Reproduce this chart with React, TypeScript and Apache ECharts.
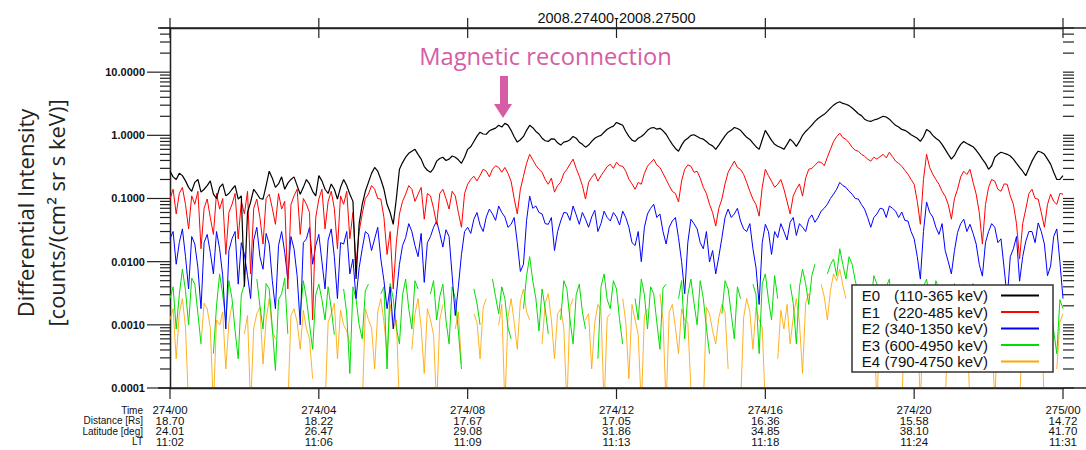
import React, { useEffect, useRef } from "react";
import * as echarts from "echarts";

// ---------- data ----------
// *_ON : samples on the 10-minute marks (274/00:00, 00:10, ... 275/00:00), 145 values
// *_MID: samples 5 minutes after each mark, 144 values
const STEP_HOURS = 1 / 6;

const SERIES_NAMES = ["E0", "E1", "E2", "E3", "E4"];
const SERIES_RANGES = ["(110-365 keV)", "(220-485 keV)", "(340-1350 keV)", "(600-4950 keV)", "(790-4750 keV)"];
const SERIES_COLORS = ["#000000", "#ff0000", "#0000ff", "#00dd00", "#ffa500"];

const TIME_LABELS = ["274/00", "274/04", "274/08", "274/12", "274/16", "274/20", "275/00"];
const DIST_LABELS = ["18.70", "18.22", "17.67", "17.05", "16.36", "15.58", "14.72"];
const LAT_LABELS = ["24.01", "26.47", "29.08", "31.86", "34.85", "38.10", "41.70"];
const LT_LABELS = ["11:02", "11:06", "11:09", "11:13", "11:18", "11:24", "11:31"];
const ROW_HEADERS = ["Time", "Distance [Rs]", "Latitude [deg]", "LT"];

const Y_MIN = 0.0001;
const Y_MAX = 50;
const Y_MAJOR = [0.0001, 0.001, 0.01, 0.1, 1, 10];
const Y_MINOR_MULT = [2, 3, 4, 5, 6, 7, 8, 9];
const X_TICKS = [0, 4, 8, 12, 16, 20, 24];

const E0_ON = [
  0.27, 0.2, 0.23, 0.15, 0.18, 0.126, 0.16, 0.117, 0.15, 0.11,
  0.14, 0.098, 0.004, 0.088, 0.12, 0.098, 0.27, 0.15, 0.22, 0.175,
  0.22, 0.117, 0.2, 0.13, 0.23, 0.14, 0.17, 0.098, 0.2, 0.117,
  0.0053, 0.081, 0.18, 0.31, 0.2, 0.081, 0.039, 0.29, 0.45, 0.56,
  0.5, 0.32, 0.26, 0.39, 0.45, 0.42, 0.45, 0.36, 0.6, 0.8,
  1.12, 1.04, 1.24, 1.44, 1.55, 1.2, 0.78, 0.96, 1.44, 1.15,
  0.9, 0.8, 0.87, 0.7, 0.8, 0.96, 0.78, 0.65, 0.8, 0.96,
  1.12, 1.33, 1.6, 1.44, 0.96, 0.8, 0.96, 1.2, 1.33, 1.29,
  1.04, 0.72, 0.56, 0.83, 1.0, 0.96, 0.87, 0.72, 0.6, 0.83,
  1.12, 1.33, 1.2, 0.93, 0.75, 0.6, 1.2, 0.83, 0.67, 0.6,
  0.87, 0.67, 1.0, 1.29, 1.66, 2.0, 2.4, 3.0, 3.4, 3.1,
  2.7, 2.2, 1.8, 1.66, 1.8, 2.0, 1.8, 1.44, 1.24, 1.12,
  0.96, 0.8, 1.24, 1.0, 0.83, 0.6, 0.42, 0.6, 0.8, 0.7,
  0.58, 0.42, 0.29, 0.45, 0.54, 0.5, 0.42, 0.31, 0.23, 0.39,
  0.56, 0.5, 0.35, 0.2, 0.23,
];
const E0_MID = [
  0.22, 0.25, 0.19, 0.13, 0.2, 0.14, 0.19, 0.1, 0.17, 0.12,
  0.16, 0.11, 0.06, 0.14, 0.1, 0.16, 0.21, 0.17, 0.14, 0.2,
  0.16, 0.15, 0.17, 0.11, 0.19, 0.12, 0.14, 0.15, 0.16, 0.09,
  0.04, 0.13, 0.25, 0.27, 0.14, 0.06, 0.1, 0.37, 0.52, 0.6,
  0.42, 0.28, 0.3, 0.43, 0.4, 0.47, 0.41, 0.45, 0.66, 0.97,
  1.05, 1.18, 1.3, 1.35, 1.45, 0.95, 0.85, 1.2, 1.32, 1.05,
  0.82, 0.88, 0.76, 0.78, 0.85, 0.9, 0.72, 0.7, 0.9, 1.0,
  1.25, 1.4, 1.52, 1.15, 0.84, 0.9, 1.05, 1.3, 1.25, 1.18,
  0.86, 0.62, 0.7, 0.9, 1.02, 0.9, 0.8, 0.68, 0.7, 0.98,
  1.2, 1.28, 1.05, 0.86, 0.66, 0.85, 1.0, 0.72, 0.64, 0.72,
  0.78, 0.8, 1.15, 1.45, 1.85, 2.15, 2.7, 3.25, 3.2, 2.95,
  2.45, 2.05, 1.7, 1.75, 1.9, 1.95, 1.6, 1.35, 1.2, 1.02,
  0.9, 0.95, 1.15, 0.9, 0.72, 0.5, 0.48, 0.72, 0.74, 0.66,
  0.5, 0.36, 0.33, 0.5, 0.52, 0.47, 0.36, 0.27, 0.3, 0.48,
  0.54, 0.42, 0.26, 0.2,
];

const E1_ON = [
  0.098, 0.057, 0.15, 0.033, 0.081, 0.016, 0.098, 0.027, 0.068, 0.013,
  0.081, 0.023, 0.057, 0.0064, 0.098, 0.019, 0.117, 0.039, 0.068, 0.0037,
  0.11, 0.027, 0.081, 0.0012, 0.098, 0.033, 0.13, 0.016, 0.081, 0.023,
  0.0091, 0.057, 0.117, 0.14, 0.098, 0.013, 0.0037, 0.057, 0.117, 0.14,
  0.117, 0.047, 0.11, 0.039, 0.14, 0.068, 0.11, 0.035, 0.168, 0.225,
  0.233, 0.27, 0.29, 0.31, 0.31, 0.188, 0.057, 0.225, 0.5, 0.335,
  0.26, 0.168, 0.126, 0.181, 0.29, 0.42, 0.225, 0.098, 0.217, 0.188,
  0.27, 0.348, 0.374, 0.324, 0.202, 0.14, 0.168, 0.324, 0.418, 0.31,
  0.2, 0.13, 0.088, 0.29, 0.324, 0.27, 0.15, 0.081, 0.0365, 0.098,
  0.26, 0.39, 0.29, 0.18, 0.098, 0.0525, 0.29, 0.188, 0.168, 0.14,
  0.057, 0.14, 0.109, 0.29, 0.335, 0.374, 0.45, 0.8, 1.08, 0.865,
  0.646, 0.56, 0.466, 0.39, 0.42, 0.5, 0.54, 0.39, 0.324, 0.242,
  0.168, 0.039, 0.5, 0.242, 0.168, 0.109, 0.047, 0.14, 0.27, 0.29,
  0.117, 0.019, 0.15, 0.188, 0.13, 0.168, 0.081, 0.011, 0.068, 0.14,
  0.098, 0.035, 0.117, 0.081, 0.117,
];
const E1_MID = [
  0.14, 0.12, 0.08, 0.11, 0.13, 0.07, 0.05, 0.12, 0.1, 0.06,
  0.12, 0.09, 0.13, 0.07, 0.05, 0.1, 0.07, 0.12, 0.09, 0.08,
  0.14, 0.1, 0.06, 0.05, 0.14, 0.09, 0.07, 0.11, 0.13, 0.06,
  0.03, 0.1, 0.16, 0.1, 0.05, 0.03, 0.02, 0.09, 0.16, 0.09,
  0.15, 0.12, 0.07, 0.12, 0.1, 0.13, 0.06, 0.12, 0.2, 0.19,
  0.29, 0.22, 0.33, 0.26, 0.25, 0.1, 0.14, 0.36, 0.41, 0.29,
  0.2, 0.21, 0.16, 0.25, 0.35, 0.3, 0.16, 0.18, 0.25, 0.23,
  0.32, 0.3, 0.33, 0.27, 0.17, 0.18, 0.25, 0.37, 0.34, 0.25,
  0.16, 0.12, 0.19, 0.34, 0.26, 0.21, 0.12, 0.06, 0.07, 0.17,
  0.32, 0.31, 0.24, 0.13, 0.08, 0.15, 0.23, 0.15, 0.2, 0.09,
  0.11, 0.17, 0.21, 0.3, 0.38, 0.33, 0.6, 0.95, 0.92, 0.76,
  0.58, 0.5, 0.42, 0.45, 0.46, 0.44, 0.46, 0.36, 0.28, 0.2,
  0.09, 0.2, 0.31, 0.2, 0.13, 0.08, 0.1, 0.22, 0.24, 0.18,
  0.06, 0.08, 0.2, 0.14, 0.17, 0.11, 0.04, 0.04, 0.12, 0.1,
  0.06, 0.08, 0.09, 0.12,
];

const E2_ON = [
  0.023, 0.0091, 0.033, 0.0037, 0.019, 0.0018, 0.027, 0.0064, 0.016, 0.00086,
  0.023, 0.0044, 0.013, 0.0026, 0.035, 0.0076, 0.019, 0.0018, 0.03, 0.0053,
  0.016, 0.001, 0.023, 0.0091, 0.027, 0.0037, 0.033, 0.0026, 0.019, 0.0064,
  0.0026, 0.016, 0.027, 0.023, 0.011, 0.0018, 0.00086, 0.0091, 0.024, 0.03,
  0.012, 0.0047, 0.025, 0.044, 0.017, 0.025, 0.0014, 0.013, 0.035, 0.047,
  0.038, 0.051, 0.057, 0.076, 0.051, 0.039, 0.02, 0.0091, 0.109, 0.076,
  0.057, 0.039, 0.015, 0.044, 0.059, 0.076, 0.039, 0.047, 0.051, 0.03,
  0.063, 0.044, 0.051, 0.063, 0.035, 0.018, 0.01, 0.057, 0.081, 0.057,
  0.019, 0.044, 0.024, 0.0031, 0.047, 0.033, 0.016, 0.0099, 0.0064, 0.024,
  0.068, 0.057, 0.044, 0.03, 0.016, 0.0021, 0.039, 0.013, 0.024, 0.03,
  0.042, 0.026, 0.035, 0.047, 0.042, 0.063, 0.081, 0.117, 0.18, 0.15,
  0.117, 0.098, 0.068, 0.035, 0.057, 0.068, 0.076, 0.063, 0.061, 0.044,
  0.023, 0.0053, 0.088, 0.051, 0.027, 0.015, 0.0064, 0.029, 0.047, 0.039,
  0.019, 0.0059, 0.03, 0.035, 0.023, 0.0026, 0.016, 0.0049, 0.021, 0.03,
  0.041, 0.019, 0.0085, 0.033, 0.0026,
];
const E2_MID = [
  0.03, 0.02, 0.012, 0.025, 0.008, 0.02, 0.014, 0.03, 0.006, 0.015,
  0.03, 0.02, 0.006, 0.022, 0.012, 0.028, 0.005, 0.018, 0.014, 0.025,
  0.006, 0.02, 0.035, 0.018, 0.01, 0.022, 0.012, 0.02, 0.03, 0.011,
  0.008, 0.03, 0.015, 0.035, 0.005, 0.004, 0.003, 0.018, 0.04, 0.018,
  0.028, 0.02, 0.035, 0.028, 0.032, 0.006, 0.004, 0.03, 0.028, 0.06,
  0.03, 0.068, 0.045, 0.06, 0.035, 0.05, 0.007, 0.045, 0.07, 0.06,
  0.04, 0.05, 0.03, 0.06, 0.045, 0.055, 0.06, 0.035, 0.065, 0.04,
  0.05, 0.06, 0.038, 0.05, 0.02, 0.03, 0.035, 0.07, 0.05, 0.03,
  0.035, 0.05, 0.01, 0.02, 0.04, 0.02, 0.03, 0.015, 0.012, 0.05,
  0.05, 0.07, 0.033, 0.04, 0.008, 0.02, 0.03, 0.03, 0.04, 0.022,
  0.05, 0.04, 0.03, 0.055, 0.05, 0.07, 0.1, 0.14, 0.16, 0.13,
  0.1, 0.08, 0.05, 0.05, 0.07, 0.05, 0.07, 0.05, 0.045, 0.03,
  0.012, 0.03, 0.06, 0.035, 0.04, 0.01, 0.015, 0.04, 0.03, 0.028,
  0.009, 0.02, 0.04, 0.02, 0.008, 0.012, 0.025, 0.012, 0.03, 0.02,
  0.03, 0.006, 0.025, 0.01,
];

const E3_ON = [
  0.0026, 0.00086, 0.0076, 0.001, 0.0044, 0.0005, null, 0.00035, 0.0064, 0.0012,
  0.0026, 0.00029, 0.0044, null, 0.0053, 0.00086, 0.0037, 0.00019, 0.0031, 0.00072,
  null, 0.0015, 0.0026, 0.00041, 0.0044, 0.0012, 0.0018, null, 0.0037, 0.00017,
  0.0026, 0.0006, 0.0044, null, 0.0031, 0.0002, 0.0026, 0.0005, 0.0053, 0.00086,
  0.0037, null, 0.0031, 0.0012, 0.0044, 0.0005, 0.0026, 0.0002, null, 0.0037,
  0.001, null, 0.0053, 0.0015, 0.0026, 0.0006, null, 0.0018, 0.012, 0.0026,
  0.0037, 0.00072, null, 0.0012, 0.0037, 0.0005, 0.0044, 0.00086, null, 0.00029,
  0.0064, 0.0018, 0.0037, 0.0005, null, 0.0026, 0.0053, 0.00086, 0.0031, 0.00041,
  0.0044, null, 0.0026, 0.0006, 0.0053, 0.001, 0.0026, 0.00035, null, 0.0015,
  0.0037, 0.0006, 0.0026, null, 0.0044, 0.00035, 0.0064, 0.0012, 0.0026, null,
  0.0044, 0.0005, 0.0076, 0.0021, 0.0091, null, 0.0064, 0.011, 0.016, 0.0053,
  0.0091, 0.0031, null, 0.0021, 0.0044, 0.0012, 0.0053, 0.0026, null, 0.00086,
  0.0044, 0.0006, 0.0053, 0.0018, 0.0037, null, 0.0026, 0.0006, 0.0044, 0.0012,
  0.0031, null, 0.0037, 0.001, 0.0026, 0.0005, 0.0037, 0.0006, null, 0.00086,
  0.0031, 0.00041, 0.0021, 0.00035, 0.0018,
];
const E3_MID = [
  0.004, 0.003, 0.0035, 0.0055, 0.0015, null, null, 0.002, 0.003, 0.005,
  0.0008, 0.003, null, null, 0.002, 0.0045, 0.0009, 0.0025, 0.0055, null,
  null, 0.005, 0.001, 0.003, 0.0025, 0.004, 0.0007, null, 0.0015, 0.004,
  0.001, 0.0035, null, null, 0.004, 0.0045, 0.0009, 0.003, 0.0018, 0.005,
  null, null, 0.005, 0.0028, 0.0012, 0.004, 0.0008, null, null, 0.0022,
  null, null, 0.0028, 0.004, 0.0009, null, null, 0.006, 0.005, 0.0008,
  0.0018, null, null, 0.005, 0.0012, 0.003, 0.0016, null, null, 0.004,
  0.0025, 0.005, 0.0012, null, null, 0.0012, 0.003, 0.004, 0.0011, 0.0038,
  null, null, 0.005, 0.003, 0.0022, 0.005, 0.0009, null, null, 0.005,
  0.0015, 0.004, null, null, 0.003, 0.0045, 0.0025, 0.006, null, null,
  0.0022, 0.004, 0.0045, 0.006, null, null, 0.009, 0.006, 0.009, 0.012,
  0.005, null, null, 0.006, 0.0025, 0.004, 0.0012, null, null, 0.0035,
  0.0018, 0.004, 0.0025, 0.005, null, null, 0.0045, 0.0022, 0.002, 0.0045,
  null, null, 0.0022, 0.004, 0.001, 0.003, 0.0015, null, null, 0.004,
  0.001, 0.003, 0.0008, 0.0025,
];

const E4_ON = [
  0.0012, 0.00029, 0.0026, 0.00005, null, 0.0005, 0.0018, 0.00005, 0.001, 0.0002,
  0.0021, null, 0.00072, 0.00005, 0.0015, 0.00024, 0.0026, 0.0006, null, 0.00005,
  0.0018, 0.00041, 0.00086, 0.00014, null, 0.00005, 0.0015, 0.00029, 0.001, 0.0005,
  null, 0.00005, 0.0012, 0.0002, 0.0026, 0.00035, 0.00086, 0.00005, null, 0.00041,
  0.0026, 0.00017, 0.0012, 0.00005, 0.0021, null, 0.00086, 0.00024, null, 0.0015,
  0.00029, 0.0026, null, 0.001, 0.00005, 0.0026, 0.00041, 0.0037, 0.0012, null,
  0.0005, 0.0031, 0.00029, 0.0018, 0.00005, 0.0026, null, 0.0012, 0.0002, 0.0021,
  0.00005, 0.0015, null, 0.0026, 0.00014, 0.0012, 0.00005, 0.0018, null, 0.0031,
  0.00005, 0.0021, 0.00035, 0.0012, 0.000095, null, 0.00005, 0.0015, 0.0005, 0.0021,
  0.0002, null, 0.00005, 0.0026, 0.00041, 0.0012, 0.00005, null, 0.00029, 0.00086,
  0.0005, 0.0026, 0.00017, 0.0031, null, 0.0044, 0.0012, 0.0064, 0.0076, 0.0026,
  null, 0.0037, 0.00035, 0.0018, 0.00005, 0.0026, 0.0005, null, 0.00005, 0.0021,
  0.00041, 0.00005, 0.0026, 0.0006, null, 0.00005, 0.001, 0.00029, 0.0021, 0.00005,
  null, 0.00041, 0.0026, 0.00005, 0.00086, 0.00029, null, 0.00005, 0.0012, 0.0005,
  0.0021, 0.00005, null, 0.0002, 0.0015,
];
const E4_MID = [
  0.0018, 0.0015, 0.0009, null, null, 0.0022, 0.0009, 0.0012, 0.0016, 0.0011,
  null, null, 0.0014, 0.0009, 0.0019, 0.0012, 0.0008, null, null, 0.0014,
  0.0011, 0.0017, 0.0006, null, null, 0.0011, 0.0022, 0.0017, 0.0008, null,
  null, 0.0018, 0.0009, 0.0016, 0.0011, 0.0021, 0.0012, null, null, 0.0015,
  0.0009, 0.0018, 0.0007, 0.0012, null, null, 0.0016, null, null, 0.0011,
  0.0019, null, null, 0.0021, 0.0013, 0.0011, 0.0024, 0.0016, null, null,
  0.0022, 0.0012, 0.0015, 0.0009, 0.0019, null, null, 0.0015, 0.0011, 0.0017,
  0.0013, null, null, 0.0011, 0.0021, 0.0007, 0.0014, null, null, 0.0012,
  0.0016, 0.0009, 0.0018, 0.0011, null, null, 0.0019, 0.0008, 0.0013, 0.0016,
  null, null, 0.0013, 0.0016, 0.0019, 0.0009, null, null, 0.0017, 0.0021,
  0.0013, 0.0011, 0.0022, null, null, 0.0028, 0.0035, 0.005, 0.0042, null,
  null, 0.0014, 0.0022, 0.0011, 0.0016, 0.0019, null, null, 0.0013, 0.0009,
  0.0016, 0.0018, 0.0012, null, null, 0.0017, 0.0014, 0.0016, 0.0011, null,
  null, 0.0015, 0.0012, 0.0016, 0.0018, null, null, 0.0014, 0.0009, 0.0017,
  0.0012, null, null, 0.0011,
];

const SERIES_ON = [E0_ON, E1_ON, E2_ON, E3_ON, E4_ON];
const SERIES_MID = [E0_MID, E1_MID, E2_MID, E3_MID, E4_MID];

// ---------- chart ----------
const FONT = "'Liberation Sans', Arial, sans-serif";
const FONT2 = "'Open Sans', 'Noto Sans', sans-serif";
const AXIS_COLOR = "#222";

function combine(on: (number | null)[], mid: (number | null)[]) {
  const out: any[] = [];
  on.forEach((v, i) => {
    out.push([i * STEP_HOURS, v === null ? "-" : v]);
    if (i < mid.length) {
      const m = mid[i];
      out.push([(i + 0.5) * STEP_HOURS, m === null ? "-" : m]);
    }
  });
  return out;
}

function buildOption() {
  const tickData: any[] = [];
  Y_MAJOR.forEach((v) => tickData.push([0, v, 0]));
  Y_MAJOR.forEach((d) =>
    Y_MINOR_MULT.forEach((m) => {
      const v = d * m;
      if (v <= Y_MAX * 1.0001) tickData.push([0, v, 1]);
    })
  );
  X_TICKS.forEach((h) => tickData.push([h, 1, 2]));

  const tickStyle = { stroke: AXIS_COLOR, lineWidth: 1.2 };
  const renderTicks = (params: any, api: any) => {
    const kind = api.value(2);
    const cs = params.coordSys;
    const left = cs.x;
    const right = cs.x + cs.width;
    const top = cs.y;
    const bottom = cs.y + cs.height;
    if (kind === 2) {
      const px = api.coord([api.value(0), 1])[0];
      return {
        type: "group",
        children: [
          { type: "line", shape: { x1: px, y1: top - 10, x2: px, y2: top + 10 }, style: tickStyle },
          { type: "line", shape: { x1: px, y1: bottom, x2: px, y2: bottom + 11 }, style: tickStyle },
        ],
      };
    }
    const py = api.coord([0, api.value(1)])[1];
    const len = kind === 0 ? 23 : 10;
    return {
      type: "group",
      children: [
        { type: "line", shape: { x1: left - len, y1: py, x2: left, y2: py }, style: tickStyle },
        { type: "line", shape: { x1: right, y1: py, x2: right + 11, y2: py }, style: tickStyle },
      ],
    };
  };

  const lineSeries = SERIES_NAMES.map((name, k) => ({
    type: "line",
    name,
    data: combine(SERIES_ON[k], SERIES_MID[k]),
    showSymbol: false,
    symbol: "none",
    clip: true,
    silent: true,
    connectNulls: false,
    color: SERIES_COLORS[k],
    itemStyle: { color: SERIES_COLORS[k] },
    lineStyle: { color: SERIES_COLORS[k], width: k === 0 ? 1.2 : 1, opacity: k === 4 ? 0.85 : 1 },
    emphasis: { disabled: true },
    z: 2,
  }));
  const orderedSeries = lineSeries.slice().reverse(); // E0 drawn last, on top

  const rangeOf: Record<string, string> = {};
  SERIES_NAMES.forEach((n, k) => (rangeOf[n] = SERIES_RANGES[k]));

  return {
    animation: false,
    backgroundColor: "#ffffff",
    grid: { left: 170, right: 23, top: 28, bottom: 62, containLabel: false },
    legend: {
      data: SERIES_NAMES,
      orient: "vertical",
      left: 852,
      top: 285,
      align: "right",
      icon: "rect",
      itemWidth: 38,
      itemHeight: 2,
      itemGap: 1.5,
      padding: [3, 14, 3, 6],
      backgroundColor: "#ffffff",
      borderColor: "#333",
      borderWidth: 1.5,
      borderRadius: 0,
      selectedMode: false,
      formatter: (name: string) => `{a|${name}}{b|${rangeOf[name]}}`,
      textStyle: {
        fontFamily: FONT,
        fontSize: 15,
        color: "#111",
        rich: {
          a: { width: 22, fontFamily: FONT, fontSize: 15, lineHeight: 14.5, color: "#111" },
          b: { width: 108, align: "right", padding: [0, 8, 0, 0], fontFamily: FONT, fontSize: 15, lineHeight: 14.5, color: "#111" },
        },
      },
      z: 10,
    },
    xAxis: [
      {
        type: "value",
        min: 0,
        max: 24,
        interval: 4,
        position: "bottom",
        axisLine: { show: true, lineStyle: { color: AXIS_COLOR, width: 1.3 } },
        axisTick: { show: false },
        splitLine: { show: false },
        axisLabel: {
          margin: 17,
          fontFamily: FONT,
          fontSize: 11.5,
          lineHeight: 10.5,
          color: "#111",
          formatter: (v: number) => {
            const k = Math.round(v / 4);
            return [TIME_LABELS[k], DIST_LABELS[k], LAT_LABELS[k], LT_LABELS[k]].join("\n");
          },
        },
      },
      {
        type: "value",
        min: 0,
        max: 24,
        interval: 4,
        position: "top",
        axisLine: { show: true, lineStyle: { color: AXIS_COLOR, width: 1.3 } },
        axisTick: { show: false },
        axisLabel: { show: false },
        splitLine: { show: false },
      },
    ],
    yAxis: [
      {
        type: "log",
        logBase: 10,
        min: Y_MIN,
        max: Y_MAX,
        position: "left",
        axisLine: { show: true, lineStyle: { color: AXIS_COLOR, width: 1.3 } },
        axisTick: { show: false },
        splitLine: { show: false },
        minorTick: { show: false },
        axisLabel: {
          margin: 25,
          fontFamily: FONT,
          fontSize: 11,
          fontWeight: "bold",
          color: "#111",
          showMaxLabel: false,
          formatter: (v: number) => Number(v).toFixed(4),
        },
      },
      {
        type: "log",
        logBase: 10,
        min: Y_MIN,
        max: Y_MAX,
        position: "right",
        axisLine: { show: true, lineStyle: { color: AXIS_COLOR, width: 1.3 } },
        axisTick: { show: false },
        axisLabel: { show: false },
        splitLine: { show: false },
      },
    ],
    series: [
      ...orderedSeries,
      {
        type: "custom",
        name: "ticks",
        xAxisIndex: 0,
        yAxisIndex: 0,
        data: tickData,
        renderItem: renderTicks,
        silent: true,
        clip: false,
        z: 5,
      },
    ],
    graphic: [
      { type: "line", shape: { x1: 158, y1: 28, x2: 1086, y2: 28 }, style: { stroke: AXIS_COLOR, lineWidth: 1.3 }, z: 3 },
      { type: "line", shape: { x1: 158, y1: 388, x2: 1086, y2: 388 }, style: { stroke: AXIS_COLOR, lineWidth: 1.3 }, z: 3 },
      {
        type: "text",
        x: 616.5,
        y: 17.5,
        style: {
          text: "2008.27400-2008.27500",
          fontFamily: FONT,
          fontSize: 14.5,
          fill: "#111",
          align: "center",
          textAlign: "center",
          verticalAlign: "middle",
          textVerticalAlign: "middle",
        },
        z: 6,
      },
      {
        type: "text",
        x: 40.5,
        y: 213,
        rotation: Math.PI / 2,
        style: {
          text: "Differential Intensity\n[counts/(cm² sr s keV)]",
          fontFamily: FONT2,
          fontSize: 22,
          lineHeight: 31,
          fill: "#222",
          align: "center",
          textAlign: "center",
          verticalAlign: "middle",
          textVerticalAlign: "middle",
        },
      },
      ...ROW_HEADERS.map((t, r) => ({
        type: "text",
        x: 143,
        y: 410 + r * 10.5,
        style: {
          text: t,
          fontFamily: FONT,
          fontSize: 10,
          fill: "#111",
          align: "right",
          textAlign: "right",
          verticalAlign: "middle",
          textVerticalAlign: "middle",
        },
      })),
      {
        type: "text",
        x: 545.5,
        y: 56,
        style: {
          text: "Magnetic reconnection",
          fontFamily: FONT2,
          fontSize: 23.7,
          fill: "#d65ca6",
          align: "center",
          textAlign: "center",
          verticalAlign: "middle",
          textVerticalAlign: "middle",
        },
        z: 6,
      },
      { type: "rect", shape: { x: 500, y: 76, width: 8, height: 29 }, style: { fill: "#d65ca6" }, z: 6 },
      { type: "polygon", shape: { points: [[494, 104], [512, 104], [503, 118]] }, style: { fill: "#d65ca6" }, z: 6 },
    ],
  };
}

export default function App() {
  const ref = useRef<HTMLDivElement>(null);
  useEffect(() => {
    if (!ref.current) return;
    const chart = echarts.init(ref.current, undefined, { renderer: "svg" });
    chart.setOption(buildOption() as any);
    return () => chart.dispose();
  }, []);
  return (
    <div
      ref={ref}
      style={{ position: "absolute", left: 0, top: 0, width: 1086, height: 450, background: "#fff" }}
    />
  );
}
